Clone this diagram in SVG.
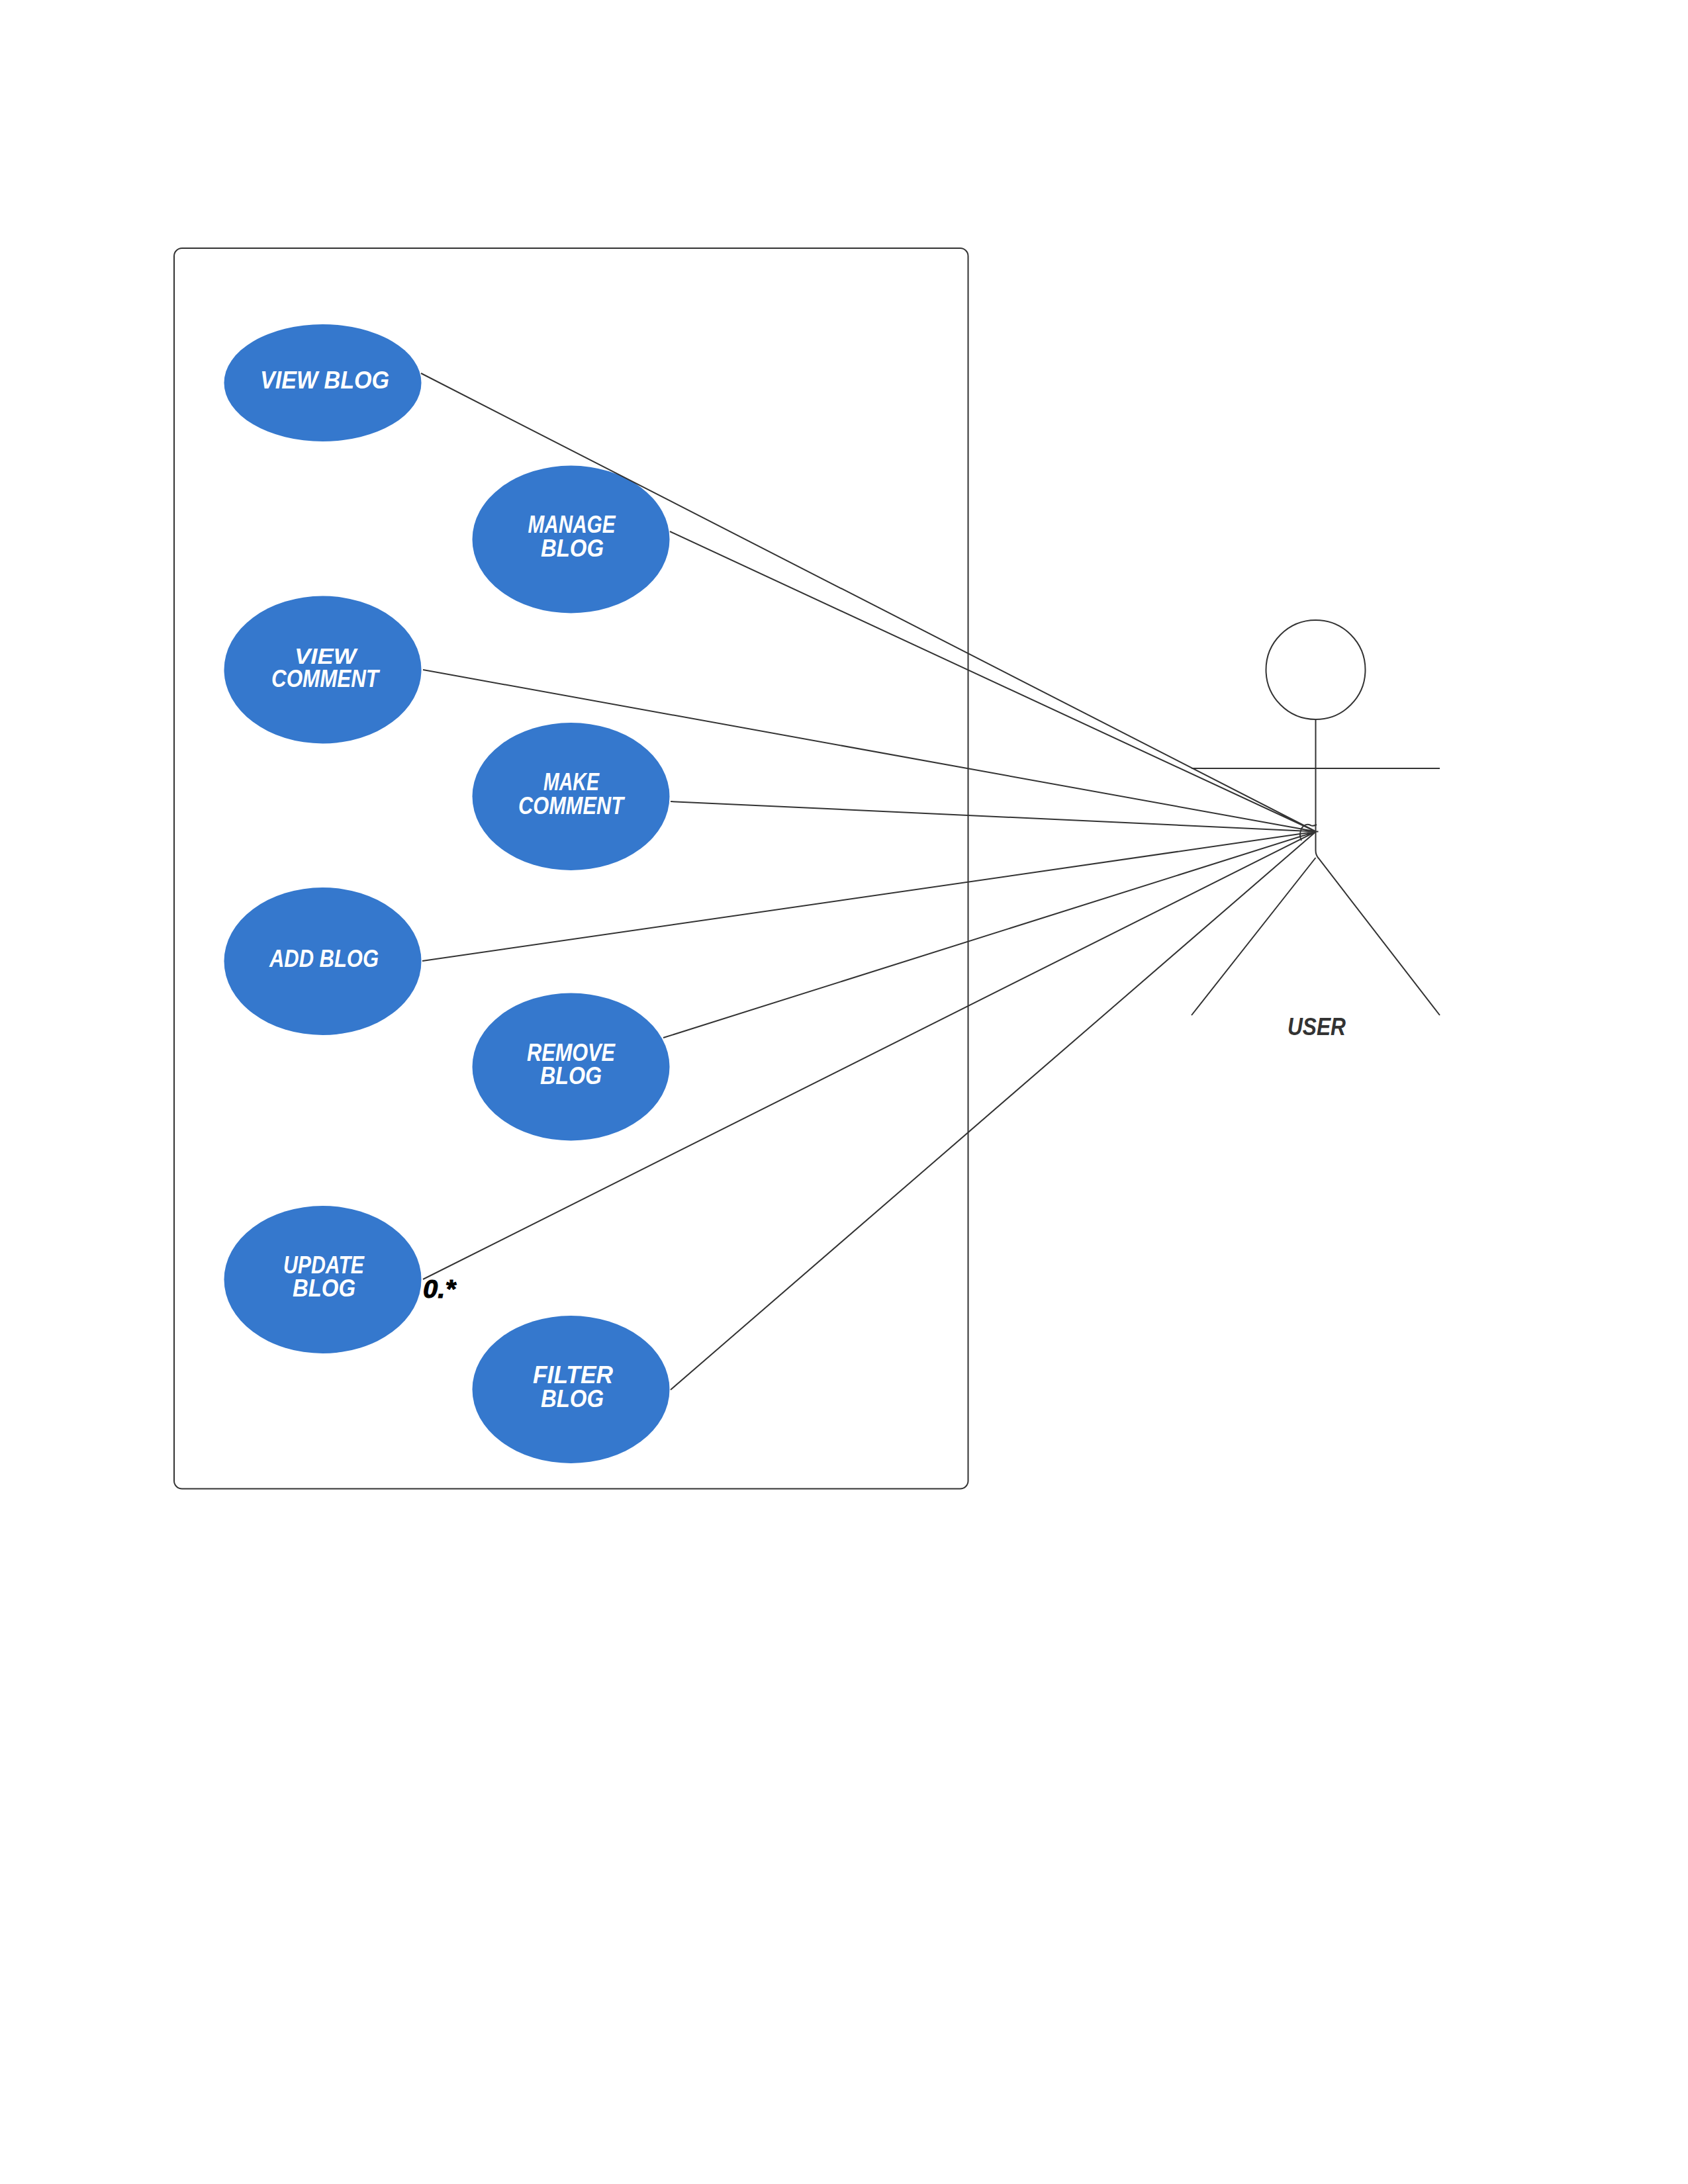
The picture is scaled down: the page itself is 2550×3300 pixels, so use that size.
<svg xmlns="http://www.w3.org/2000/svg" width="2550" height="3300" viewBox="0 0 2550 3300">
<style>
.l{fill:none;stroke:#333;stroke-width:2}
.u{fill:#3578cd}
text{font-family:"Liberation Sans",Arial,sans-serif;font-style:italic;font-weight:700;font-size:36px;fill:#fff}
</style>
<rect width="2550" height="3300" fill="#fff"/>
<rect id="boundary" class="l" x="263" y="375" width="1199.500" height="1874.500" rx="12"/>
<g id="view-blog"><ellipse class="u" cx="487.500" cy="578.500" rx="149" ry="88.500"/><text x="393" y="587" textLength="195" lengthAdjust="spacingAndGlyphs">VIEW BLOG</text></g>
<g id="manage-blog"><ellipse class="u" cx="862.500" cy="815" rx="149" ry="111.500"/><text x="797.500" y="805" textLength="132" lengthAdjust="spacingAndGlyphs">MANAGE</text><text x="817" y="841" textLength="95" lengthAdjust="spacingAndGlyphs">BLOG</text></g>
<g id="view-comment"><ellipse class="u" cx="487.500" cy="1012" rx="149" ry="111.500"/><text x="445" y="1003" textLength="93" lengthAdjust="spacingAndGlyphs" style="font-size:34px">VIEW</text><text x="410" y="1038" textLength="162" lengthAdjust="spacingAndGlyphs">COMMENT</text></g>
<g id="make-comment"><ellipse class="u" cx="862.500" cy="1203.500" rx="149" ry="111.500"/><text x="821" y="1194" textLength="84" lengthAdjust="spacingAndGlyphs">MAKE</text><text x="783" y="1230" textLength="159" lengthAdjust="spacingAndGlyphs">COMMENT</text></g>
<g id="add-blog"><ellipse class="u" cx="487.500" cy="1452.500" rx="149" ry="111.500"/><text x="407" y="1461" textLength="165" lengthAdjust="spacingAndGlyphs">ADD BLOG</text></g>
<g id="remove-blog"><ellipse class="u" cx="862.500" cy="1612" rx="149" ry="111.500"/><text x="796" y="1603" textLength="133" lengthAdjust="spacingAndGlyphs">REMOVE</text><text x="816" y="1638" textLength="93" lengthAdjust="spacingAndGlyphs">BLOG</text></g>
<g id="update-blog"><ellipse class="u" cx="487.500" cy="1933.500" rx="149" ry="111.500"/><text x="428" y="1924" textLength="122" lengthAdjust="spacingAndGlyphs">UPDATE</text><text x="442" y="1959" textLength="95" lengthAdjust="spacingAndGlyphs">BLOG</text></g>
<g id="filter-blog"><ellipse class="u" cx="862.500" cy="2099.500" rx="149" ry="111.500"/><text x="805" y="2090" textLength="121" lengthAdjust="spacingAndGlyphs">FILTER</text><text x="817" y="2126" textLength="95" lengthAdjust="spacingAndGlyphs">BLOG</text></g>
<g id="user">
<ellipse class="l" cx="1987.500" cy="1012" rx="75" ry="75"/>
<path class="l" d="M1987.500 1087V1285Q1987.500 1292 1992 1297L2175 1534M1987.500 1296L1800 1534M1800 1161H2175"/>
<text x="1945" y="1564" textLength="88" lengthAdjust="spacingAndGlyphs" style="fill:#333">USER</text>
</g>
<g id="connectors">
<path class="l" d="M636 564L1988 1256.500M1012 803L1988 1256.500M639 1012L1988 1256.500M1013 1211L1988 1256.500M638 1452L1988 1256.500M1002 1568L1988 1256.500M639 1933L1988 1256.500M1013 2100L1988 1256.500"/>
<path class="l" d="M1985 1256.500H1991.500M1989 1246Q1983 1249 1980 1247Q1972 1243 1966 1252Q1962 1262 1966 1270"/>
<text x="639" y="1961" textLength="49" lengthAdjust="spacingAndGlyphs" style="fill:#000;font-size:38px;stroke:#000;stroke-width:1">0.*</text>
</g>
</svg>
